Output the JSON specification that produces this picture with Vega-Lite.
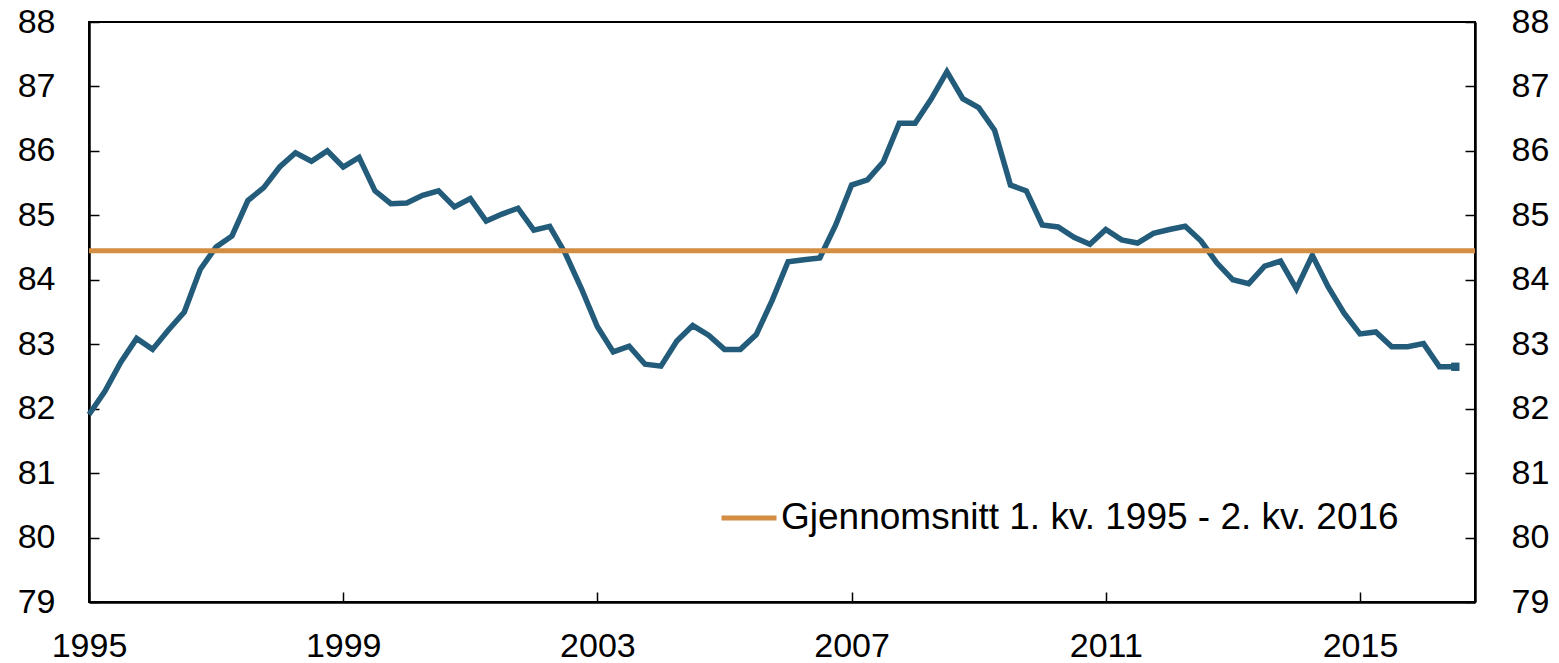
{
  "$schema": "https://vega.github.io/schema/vega-lite/v6.json",
  "width": 1386,
  "height": 580,
  "autosize": {"type": "none"},
  "padding": {"left": 89, "top": 22, "right": 84, "bottom": 61},
  "background": "white",
  "config": {
    "font": "Liberation Sans",
    "view": {"stroke": "black", "strokeWidth": 2},
    "axis": {"grid": false, "title": null, "labelColor": "black", "labelFontSize": 34, "tickColor": "black", "tickWidth": 1.5, "tickSize": -10, "domainColor": "black", "domainWidth": 2.5, "labelFlush": false, "labelOverlap": false}
  },
  "datasets": {
    "series": [
      {"t": 1995.0, "v": 81.91}, {"t": 1995.25, "v": 82.27}, {"t": 1995.5, "v": 82.72}, {"t": 1995.75, "v": 83.09},
      {"t": 1996.0, "v": 82.92}, {"t": 1996.25, "v": 83.22}, {"t": 1996.5, "v": 83.50}, {"t": 1996.75, "v": 84.16},
      {"t": 1997.0, "v": 84.51}, {"t": 1997.25, "v": 84.68}, {"t": 1997.5, "v": 85.23}, {"t": 1997.75, "v": 85.43},
      {"t": 1998.0, "v": 85.75}, {"t": 1998.25, "v": 85.97}, {"t": 1998.5, "v": 85.84}, {"t": 1998.75, "v": 86.00},
      {"t": 1999.0, "v": 85.75}, {"t": 1999.25, "v": 85.90}, {"t": 1999.5, "v": 85.38}, {"t": 1999.75, "v": 85.18},
      {"t": 2000.0, "v": 85.19}, {"t": 2000.25, "v": 85.31}, {"t": 2000.5, "v": 85.38}, {"t": 2000.75, "v": 85.13},
      {"t": 2001.0, "v": 85.26}, {"t": 2001.25, "v": 84.91}, {"t": 2001.5, "v": 85.02}, {"t": 2001.75, "v": 85.11},
      {"t": 2002.0, "v": 84.77}, {"t": 2002.25, "v": 84.83}, {"t": 2002.5, "v": 84.40}, {"t": 2002.75, "v": 83.86},
      {"t": 2003.0, "v": 83.27}, {"t": 2003.25, "v": 82.88}, {"t": 2003.5, "v": 82.97}, {"t": 2003.75, "v": 82.69},
      {"t": 2004.0, "v": 82.66}, {"t": 2004.25, "v": 83.05}, {"t": 2004.5, "v": 83.29}, {"t": 2004.75, "v": 83.14},
      {"t": 2005.0, "v": 82.92}, {"t": 2005.25, "v": 82.92}, {"t": 2005.5, "v": 83.15}, {"t": 2005.75, "v": 83.68},
      {"t": 2006.0, "v": 84.28}, {"t": 2006.25, "v": 84.31}, {"t": 2006.5, "v": 84.34}, {"t": 2006.75, "v": 84.85},
      {"t": 2007.0, "v": 85.47}, {"t": 2007.25, "v": 85.55}, {"t": 2007.5, "v": 85.83}, {"t": 2007.75, "v": 86.43},
      {"t": 2008.0, "v": 86.43}, {"t": 2008.25, "v": 86.80}, {"t": 2008.5, "v": 87.23}, {"t": 2008.75, "v": 86.81},
      {"t": 2009.0, "v": 86.67}, {"t": 2009.25, "v": 86.32}, {"t": 2009.5, "v": 85.47}, {"t": 2009.75, "v": 85.38},
      {"t": 2010.0, "v": 84.85}, {"t": 2010.25, "v": 84.82}, {"t": 2010.5, "v": 84.66}, {"t": 2010.75, "v": 84.55},
      {"t": 2011.0, "v": 84.78}, {"t": 2011.25, "v": 84.62}, {"t": 2011.5, "v": 84.57}, {"t": 2011.75, "v": 84.72},
      {"t": 2012.0, "v": 84.78}, {"t": 2012.25, "v": 84.83}, {"t": 2012.5, "v": 84.60}, {"t": 2012.75, "v": 84.26},
      {"t": 2013.0, "v": 84.00}, {"t": 2013.25, "v": 83.94}, {"t": 2013.5, "v": 84.21}, {"t": 2013.75, "v": 84.29},
      {"t": 2014.0, "v": 83.86}, {"t": 2014.25, "v": 84.38}, {"t": 2014.5, "v": 83.89}, {"t": 2014.75, "v": 83.48},
      {"t": 2015.0, "v": 83.16}, {"t": 2015.25, "v": 83.19}, {"t": 2015.5, "v": 82.96}, {"t": 2015.75, "v": 82.96},
      {"t": 2016.0, "v": 83.01}, {"t": 2016.25, "v": 82.65}, {"t": 2016.5, "v": 82.65}
    ],
    "avg": [{"navn": "Gjennomsnitt 1. kv. 1995 - 2. kv. 2016", "v": 84.45}]
  },
  "layer": [
    {
      "data": {"name": "series"},
      "mark": {"type": "line", "color": "#235c7b", "strokeWidth": 5.5, "strokeJoin": "miter"},
      "encoding": {
        "x": {"field": "t", "type": "quantitative", "scale": {"domain": [1995, 2016.81], "nice": false, "zero": false},
              "axis": {"values": [1995, 1999, 2003, 2007, 2011, 2015], "format": "d", "labelPadding": 37}},
        "y": {"field": "v", "type": "quantitative", "scale": {"domain": [79, 88], "nice": false, "zero": false},
              "axis": {"orient": "left", "values": [79, 80, 81, 82, 83, 84, 85, 86, 87, 88], "format": "d", "labelPadding": 44}}
      }
    },
    {
      "data": {"name": "series"},
      "transform": [{"filter": "datum.t == 2016.5"}],
      "mark": {"type": "point", "shape": "square", "filled": true, "size": 70, "color": "#235c7b", "opacity": 1},
      "encoding": {
        "x": {"field": "t", "type": "quantitative"},
        "y": {"field": "v", "type": "quantitative", "axis": null}
      }
    },
    {
      "data": {"name": "avg"},
      "mark": {"type": "rule", "strokeWidth": 5},
      "encoding": {
        "y": {"field": "v", "type": "quantitative",
              "axis": {"orient": "right", "values": [79, 80, 81, 82, 83, 84, 85, 86, 87, 88], "format": "d", "labelPadding": 46}},
        "color": {"field": "navn", "type": "nominal", "scale": {"range": ["#d38e44"]},
                  "legend": {"orient": "none", "legendX": 630, "legendY": 466, "title": null, "symbolType": "stroke", "symbolSize": 3025, "symbolStrokeWidth": 5, "labelFontSize": 37, "labelColor": "black", "labelOffset": 2, "padding": 0, "labelLimit": 1200}}
      }
    }
  ],
  "resolve": {"axis": {"y": "independent"}}
}
